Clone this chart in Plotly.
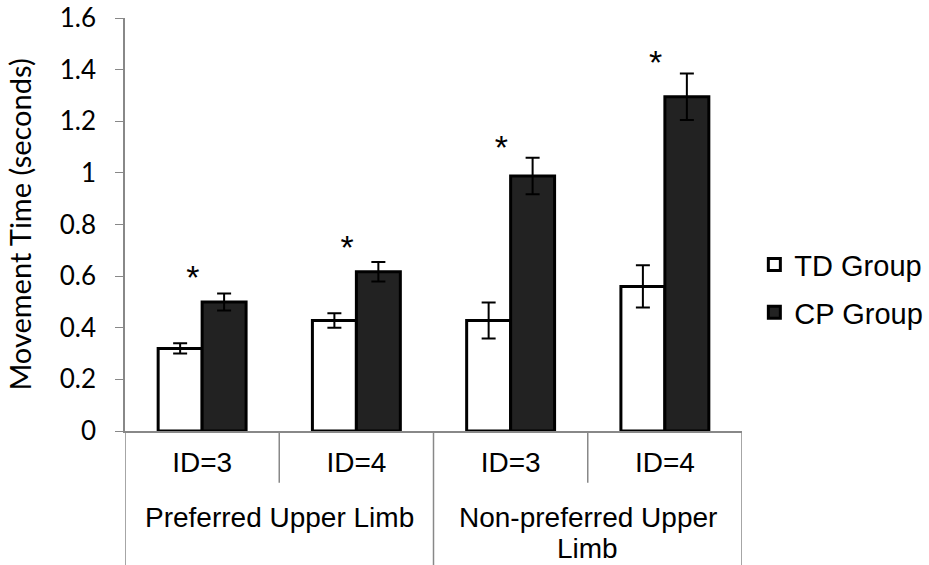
import plotly.graph_objects as go

group_labels = ["Preferred Upper Limb", "Non-preferred Upper<br>Limb"]
group_of_bar = [0, 0, 1, 1]
ids = ["ID=3", "ID=4", "ID=3", "ID=4"]
td_mean = [0.32, 0.428, 0.428, 0.56]
td_err = [0.02, 0.028, 0.07, 0.082]
cp_mean = [0.50, 0.617, 0.988, 1.295]
cp_err = [0.033, 0.038, 0.071, 0.09]
star_y = [0.585, 0.70, 1.085, 1.415]
star_text = ["*", "*", "*", "*"]
y_ticks = [0, 0.2, 0.4, 0.6, 0.8, 1, 1.2, 1.4, 1.6]

pos = list(range(len(ids)))
ARIAL = "Liberation Sans"
CAL = "Lato"
GRAY = "#888888"

fig = go.Figure()
fig.add_trace(go.Bar(
    x=pos, y=td_mean, name="TD Group", legendgroup="td",
    marker=dict(color="white", line=dict(color="black", width=3)),
    error_y=dict(type="data", array=td_err, color="black", thickness=2, width=7),
))
fig.add_trace(go.Bar(
    x=pos, y=cp_mean, name="CP Group", legendgroup="cp",
    marker=dict(color="#222222", line=dict(color="black", width=3)),
    error_y=dict(type="data", array=cp_err, color="black", thickness=2, width=7),
))
fig.add_trace(go.Scatter(
    x=[p - 0.06 for p in pos], y=star_y, mode="text", text=star_text, showlegend=False,
    textfont=dict(family=ARIAL, size=34, color="black"),
    hoverinfo="skip",
))

# axis category dividers
n = len(ids)
for b in range(n + 1):
    xv = b - 0.5
    outer = b == 0 or b == n or group_of_bar[b - 1] != group_of_bar[b]
    fig.add_shape(type="line", xref="x", yref="paper", x0=xv, x1=xv,
                  y0=0, y1=(-0.33 if outer else -0.125),
                  line=dict(color=GRAY, width=1.5))

# group labels (second row)
for g, label in enumerate(group_labels):
    members = [i for i, gg in enumerate(group_of_bar) if gg == g]
    xc = sum(members) / len(members)
    for k, line in enumerate(label.split("<br>")):
        fig.add_annotation(x=xc, xref="x", y=-0.21 - k * 0.074, yref="paper",
                           text=line, showarrow=False, yanchor="middle",
                           font=dict(family=ARIAL, size=28, color="black"))

fig.update_layout(
    width=929, height=565,
    margin=dict(l=125, r=187, t=18, b=134),
    plot_bgcolor="white", paper_bgcolor="white",
    barmode="group", bargap=0.43, bargroupgap=0,
    font=dict(family=ARIAL, color="black"),
    legend=dict(xref="container", yref="container", x=0.812, y=0.489,
                xanchor="left", yanchor="middle",
                font=dict(family=ARIAL, size=29),
                tracegroupgap=7, traceorder="grouped", itemwidth=30),
    xaxis=dict(range=[-0.5, n - 0.5], tickvals=pos, ticktext=ids,
               showline=True, linecolor=GRAY, linewidth=1.5,
               ticks="", showgrid=False, zeroline=False, automargin=False,
               ticklabelstandoff=6,
               tickfont=dict(family=ARIAL, size=28)),
    yaxis=dict(range=[0, 1.6], tickvals=y_ticks, showline=True, linecolor=GRAY,
               linewidth=1.5, ticks="outside", ticklen=8, tickcolor=GRAY,
               showgrid=False, zeroline=False, automargin=False,
               ticklabelstandoff=14,
               tickfont=dict(family=CAL, size=26),
               title=dict(text="Movement Time (seconds)",
                          font=dict(family=CAL, size=29), standoff=20)),
)

fig.write_html("out.html", config={"displayModeBar": False},
               post_script="document.body.style.margin='0';document.body.style.overflow='hidden';")
